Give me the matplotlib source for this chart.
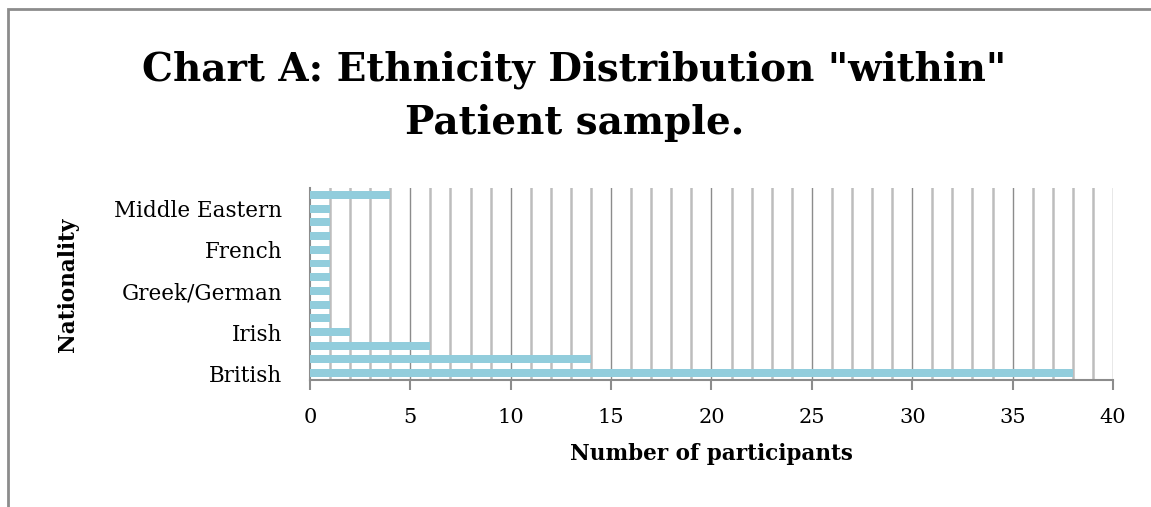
import matplotlib as mpl
mpl.use('Agg')
import matplotlib.pyplot as plt
from matplotlib.patches import Rectangle

# participants per nationality, bottom to top; only every third name is labelled
categories = ["British", "", "", "Irish", "", "", "Greek/German", "", "",
              "French", "", "", "Middle Eastern", ""]
counts = [38, 14, 6, 2, 1, 1, 1, 1, 1, 1, 1, 1, 1, 4]
x_ticks = [0, 5, 10, 15, 20, 25, 30, 35, 40]

SERIF = ['DejaVu Serif']

fig = plt.figure(figsize=(11.51, 5.07), dpi=100)
ax = fig.add_axes([0.2693, 0.2505, 0.967 - 0.2693, 0.629 - 0.2505])

ypos = list(range(len(counts)))
ax.barh(ypos, counts, height=0.58, color='#92cddc', zorder=3)

ax.set_xlim(0, 40)
ax.set_ylim(-0.5, len(counts) - 0.5)

# light grid every unit, darker at each labelled tick
for v in range(1, 41):
    if v % 5 == 0:
        ax.axvline(v, color='#8c8c8c', lw=1.0, zorder=1)
    else:
        ax.axvline(v, color='#bdbdbd', lw=1.8, zorder=1)

ax.set_xticks(x_ticks)
ax.set_xticklabels([str(t) for t in x_ticks], family=SERIF, fontsize=15)
ax.set_yticks(ypos)
ax.set_yticklabels(categories, family=SERIF, fontsize=15.5)
ax.tick_params(axis='y', length=0, pad=20)
ax.tick_params(axis='x', length=7, width=1.5, color='#8c8c8c', direction='out', pad=13)

for side in ['top', 'right']:
    ax.spines[side].set_visible(False)
for side in ['left', 'bottom']:
    ax.spines[side].set_color('#8c8c8c')
    ax.spines[side].set_linewidth(1.5)

ax.set_xlabel('Number of participants', family=SERIF, fontsize=15.5, fontweight='bold', labelpad=12)
fig.text(0.059, 0.438, 'Nationality', rotation=90, family=SERIF, fontsize=15.5,
         fontweight='bold', ha='center', va='center')

fig.text(0.499, 0.81, 'Chart A: Ethnicity Distribution "within"\nPatient sample.',
         ha='center', va='center', family=SERIF, fontsize=28, fontweight='bold',
         linespacing=1.5)

# chart frame, running off the right and bottom edges
fig.add_artist(Rectangle((0.007, -0.2), 1.2, 0.2 + 1 - 0.018, transform=fig.transFigure,
                         fill=False, edgecolor='#8c8c8c', lw=2.0))

fig.savefig('out.png', dpi=100)
